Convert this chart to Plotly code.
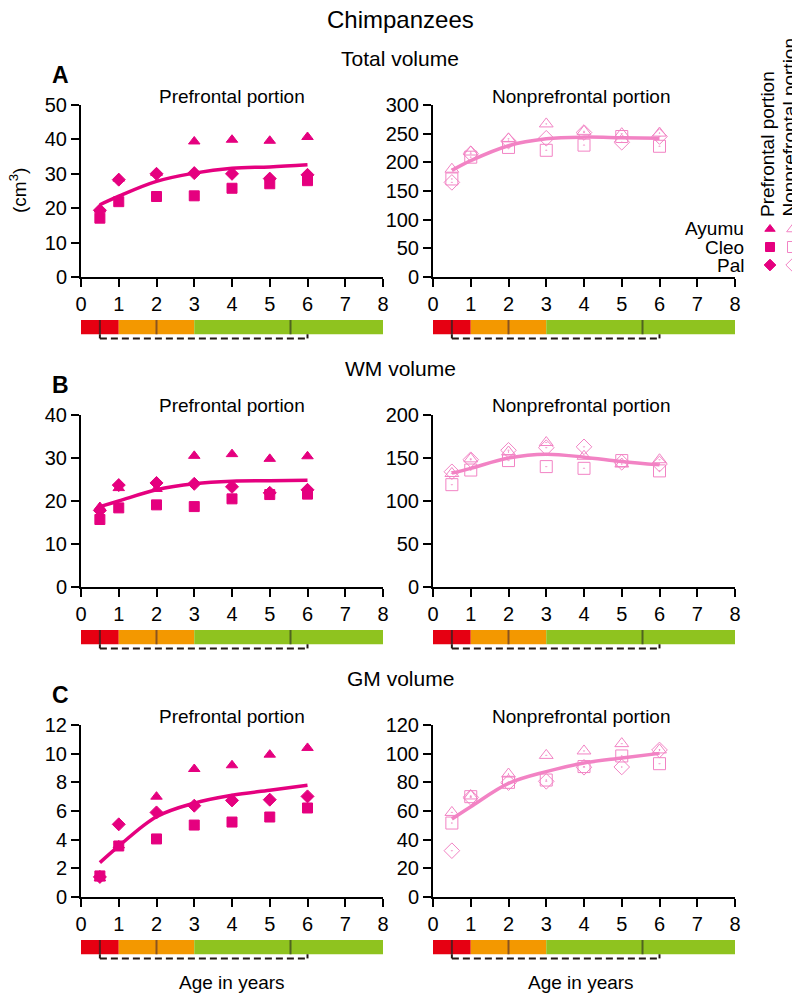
import plotly.graph_objects as go

# the page body adds an 8px margin; the figure is sized to fit the window exactly
OFF = 8
W, H = 800 - OFF, 993 - OFF

ages = [0.5, 1, 2, 3, 4, 5, 6]
x_ticks = [0, 1, 2, 3, 4, 5, 6, 7, 8]

# Total volume
A_pf_ayumu = [19.6, 28.6, 30.2, 39.4, 39.9, 39.6, 40.7]
A_pf_cleo = [17.1, 21.9, 23.4, 23.6, 25.8, 27.1, 28.0]
A_pf_pal = [19.4, 28.3, 30.0, 30.2, 30.0, 28.6, 29.7]
A_pf_fit = [21.0, 23.5, 27.8, 30.2, 31.6, 32.0, 32.6]
A_np_ayumu = [188, 218, 241, 267, 254, 250, 251]
A_np_cleo = [171, 209, 226, 221, 230, 245, 228]
A_np_pal = [165, 215, 237, 242, 252, 235, 245]
A_np_fit = [186, 203, 229, 241, 244, 243, 242]

# WM volume
B_pf_ayumu = [18.6, 23.0, 22.8, 30.5, 30.9, 29.8, 30.4]
B_pf_cleo = [15.7, 18.4, 19.1, 18.7, 20.5, 21.5, 21.6]
B_pf_pal = [17.8, 23.7, 24.2, 24.0, 23.3, 21.9, 22.6]
B_pf_fit = [18.7, 20.0, 22.6, 24.0, 24.6, 24.7, 24.8]
B_np_ayumu = [132, 149, 157, 168, 152, 143, 148]
B_np_cleo = [119, 136, 147, 140, 138, 147, 135]
B_np_pal = [134, 148, 159, 162, 163, 145, 143]
B_np_fit = [132.5, 138, 150, 154.5, 151, 146, 142]

# GM volume
C_pf_ayumu = [1.3, 3.6, 7.0, 8.93, 9.19, 9.93, 10.4]
C_pf_cleo = [1.47, 3.56, 4.05, 5.02, 5.23, 5.58, 6.21]
C_pf_pal = [1.4, 5.07, 5.9, 6.37, 6.74, 6.79, 7.02]
C_pf_fit = [2.4, 3.55, 5.6, 6.55, 7.1, 7.45, 7.8]
C_np_ayumu = [59, 70.5, 85.8, 98.8, 101.9, 107, 102.6]
C_np_cleo = [51.6, 70, 80, 81.6, 91, 98.4, 93]
C_np_pal = [32.3, 69.5, 79.8, 80.7, 90.5, 90.7, 102.6]
C_np_fit = [54.4, 63, 79.3, 87.5, 93.5, 97, 100.2]

section_titles = ["Total volume", "WM volume", "GM volume"]
panel_letters = ["A", "B", "C"]
y_ranges = [(50, 10), (300, 50), (40, 10), (200, 50), (12, 2), (120, 20)]

stage_bounds = [0, 1, 3, 8]
stage_colors = ["#E60012", "#F39800", "#8FC31F"]
stage_marks = [0.5, 2, 5.55]
stage_mark_colors = ["#5a1a1e", "#8a5420", "#4f6420"]
bracket_span = [0.5, 6]

individuals = ["Ayumu", "Cleo", "Pal"]
legend_cols = [770, 793]          # key columns (legend axis units = window px)
legend_rows = [229, 247, 265]

PF_COLOR = "#E5007F"
NP_COLOR = "#F283C4"
pf_symbols = ["triangle-up", "square", "diamond"]
np_symbols = ["triangle-up-open-dot", "square-open-dot", "diamond-open-dot"]

data = [
    [(A_pf_ayumu, A_pf_cleo, A_pf_pal, A_pf_fit), (A_np_ayumu, A_np_cleo, A_np_pal, A_np_fit)],
    [(B_pf_ayumu, B_pf_cleo, B_pf_pal, B_pf_fit), (B_np_ayumu, B_np_cleo, B_np_pal, B_np_fit)],
    [(C_pf_ayumu, C_pf_cleo, C_pf_pal, C_pf_fit), (C_np_ayumu, C_np_cleo, C_np_pal, C_np_fit)],
]

FONT = "Liberation Sans, Arial, Helvetica, sans-serif"

def px(x):
    return (x - OFF) / W

def py(y):
    return 1 - (y - OFF) / H

x_dom = [(81, 383), (433, 735)]
y_dom = [(105, 277), (415, 587), (725, 897)]

fig = go.Figure()
layout = dict(width=W, height=H, margin=dict(l=0, r=0, t=0, b=0, pad=0), autosize=False,
              plot_bgcolor="rgba(0,0,0,0)", paper_bgcolor="white", showlegend=False,
              font=dict(family=FONT, color="black", size=19))
shapes = []
annotations = []

idx = 0
for r in range(3):
    for c in range(2):
        idx += 1
        xa = "xaxis" if idx == 1 else f"xaxis{idx}"
        ya = "yaxis" if idx == 1 else f"yaxis{idx}"
        xr = "x" if idx == 1 else f"x{idx}"
        yr = "y" if idx == 1 else f"y{idx}"
        ymax, dt = y_ranges[idx - 1]
        layout[xa] = dict(domain=[px(x_dom[c][0]), px(x_dom[c][1])], range=[0, 8], anchor=yr,
                          tickvals=x_ticks, showline=True, linecolor="black", linewidth=2,
                          ticks="outside", ticklen=8, tickwidth=2, tickcolor="black",
                          showgrid=False, zeroline=False, tickfont=dict(size=20), automargin=False)
        layout[ya] = dict(domain=[py(y_dom[r][1]), py(y_dom[r][0])], range=[0, ymax], anchor=xr,
                          dtick=dt, tick0=0, showline=True, linecolor="black", linewidth=2,
                          ticks="outside", ticklen=8, tickwidth=2, tickcolor="black",
                          showgrid=False, zeroline=False, tickfont=dict(size=20), automargin=False)
        ay, cl, pl, fit = data[r][c]
        col = PF_COLOR if c == 0 else NP_COLOR
        syms = pf_symbols if c == 0 else np_symbols
        fig.add_trace(go.Scatter(x=ages, y=fit, mode="lines", line=dict(color=col, width=3.5, shape="spline"),
                                 xaxis=xr, yaxis=yr))
        for vals, sym, name in zip((ay, cl, pl), syms, individuals):
            sz = 10 if c == 0 else 12
            fig.add_trace(go.Scatter(x=ages, y=vals, mode="markers", name=name,
                                     marker=dict(symbol=sym, size=sz, color=col,
                                                 line=dict(width=1, color=col)),
                                     xaxis=xr, yaxis=yr))
        # stage bar
        ydr = f"{yr} domain"
        for i in range(3):
            shapes.append(dict(type="rect", xref=xr, yref=ydr, x0=stage_bounds[i], x1=stage_bounds[i + 1],
                               y0=-0.333, y1=-0.25, fillcolor=stage_colors[i], line=dict(width=0), layer="above"))
        for m, mc in zip(stage_marks, stage_mark_colors):
            shapes.append(dict(type="line", xref=xr, yref=ydr, x0=m, x1=m, y0=-0.333, y1=-0.25,
                               line=dict(color=mc, width=2)))
        b0, b1 = bracket_span
        shapes.append(dict(type="line", xref=xr, yref=ydr, x0=b0, x1=b0, y0=-0.333, y1=-0.357,
                           line=dict(color="#231815", width=2)))
        shapes.append(dict(type="line", xref=xr, yref=ydr, x0=b1, x1=b1, y0=-0.333, y1=-0.357,
                           line=dict(color="#231815", width=2)))
        shapes.append(dict(type="line", xref=xr, yref=ydr, x0=b0, x1=b1, y0=-0.357, y1=-0.357,
                           line=dict(color="#231815", width=2, dash="7px,4px")))
        annotations.append(dict(text="Prefrontal portion" if c == 0 else "Nonprefrontal portion",
                                x=px(232 if c == 0 else 581), y=py(y_dom[r][0] - 9), xref="paper", yref="paper",
                                showarrow=False, xanchor="center", yanchor="middle", font=dict(size=19)))
    annotations.append(dict(text=section_titles[r], x=px(400), y=py(58 + 310 * r), xref="paper", yref="paper",
                            showarrow=False, xanchor="center", yanchor="middle", font=dict(size=21)))
    annotations.append(dict(text=f"<b>{panel_letters[r]}</b>", x=px(60), y=py(75 + 310 * r), xref="paper",
                            yref="paper", showarrow=False, xanchor="center", yanchor="middle", font=dict(size=23)))

annotations.append(dict(text="Chimpanzees", x=px(400), y=py(20), xref="paper", yref="paper", showarrow=False,
                        xanchor="center", yanchor="middle", font=dict(size=24)))
annotations.append(dict(text="(cm<sup>3</sup>)", x=px(18), y=py(191), xref="paper", yref="paper",
                        showarrow=False, textangle=-90, xanchor="center", yanchor="middle", font=dict(size=19)))
for cx in (232, 581):
    annotations.append(dict(text="Age in years", x=px(cx), y=py(982), xref="paper", yref="paper", showarrow=False,
                            xanchor="center", yanchor="middle", font=dict(size=19)))

# legend: rotated column headers, row labels, and keys on a small dedicated axis
annotations.append(dict(text="Prefrontal portion", x=px(767), y=py(219), xref="paper", yref="paper",
                        showarrow=False, textangle=-90, xanchor="center", yanchor="bottom", font=dict(size=19)))
annotations.append(dict(text="Nonprefrontal portion", x=px(789), y=py(219), xref="paper", yref="paper",
                        showarrow=False, textangle=-90, xanchor="center", yanchor="bottom", font=dict(size=19)))
for name, ly in zip(individuals, legend_rows):
    annotations.append(dict(text=name, x=px(746), y=py(ly), xref="paper", yref="paper", showarrow=False,
                            xanchor="right", yanchor="middle", font=dict(size=19)))

layout["xaxis7"] = dict(domain=[px(756), 1], range=[756, 800], visible=False, anchor="y7", fixedrange=True)
layout["yaxis7"] = dict(domain=[py(276), py(218)], range=[276, 218], visible=False, anchor="x7", fixedrange=True)
for col_x, syms, col, sz in ((legend_cols[0], pf_symbols, PF_COLOR, 9), (legend_cols[1], np_symbols, NP_COLOR, 11)):
    fig.add_trace(go.Scatter(x=[col_x] * 3, y=legend_rows, mode="markers", xaxis="x7", yaxis="y7",
                             cliponaxis=False,
                             marker=dict(symbol=syms, size=sz, color=col, line=dict(width=1, color=col))))

layout["shapes"] = shapes
layout["annotations"] = annotations
fig.update_layout(**layout)
fig.write_html("out.html")
